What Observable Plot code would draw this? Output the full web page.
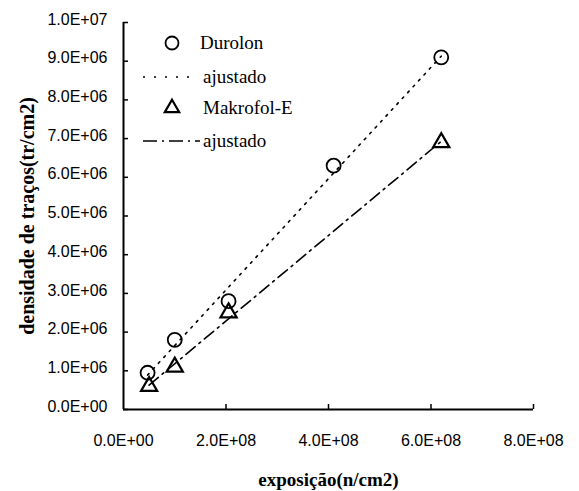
<!DOCTYPE html>
<html><head><meta charset="utf-8">
<script src="https://cdn.jsdelivr.net/npm/d3@7"></script>
<script src="https://cdn.jsdelivr.net/npm/@observablehq/plot@0.6"></script>
<style>body{margin:0;background:#fff}</style>
</head><body><div id="chart"></div>
<script>
// Durolon measured points
const durolonX = [0.47e8, 1.0e8, 2.05e8, 4.1e8, 6.2e8];
const durolonY = [0.95e6, 1.8e6, 2.8e6, 6.3e6, 9.1e6];
// Durolon fitted line
const durolonFitX = [0.47e8, 6.2e8];
const durolonFitY = [0.89e6, 9.13e6];
// Makrofol-E measured points
const makroX = [0.5e8, 1.0e8, 2.05e8, 6.2e8];
const makroY = [0.6e6, 1.1e6, 2.5e6, 6.9e6];
// Makrofol-E fitted line
const makroFitX = [0.5e8, 6.2e8];
const makroFitY = [0.63e6, 6.93e6];
// ticks
const yTicks = [0, 1e6, 2e6, 3e6, 4e6, 5e6, 6e6, 7e6, 8e6, 9e6, 1e7];
const yTickLabels = ["0.0E+00","1.0E+06","2.0E+06","3.0E+06","4.0E+06","5.0E+06","6.0E+06","7.0E+06","8.0E+06","9.0E+06","1.0E+07"];
const xTicks = [0, 2e8, 4e8, 6e8, 8e8];
const xTickLabels = ["0.0E+00","2.0E+08","4.0E+08","6.0E+08","8.0E+08"];
const legendLabels = ["Durolon", "ajustado", "Makrofol-E", "ajustado"];

const pts = (xs, ys) => xs.map((x, i) => ({x, y: ys[i]}));
const yFmt = d => yTickLabels[yTicks.indexOf(d)];
const xFmt = d => xTickLabels[xTicks.indexOf(d)];

const chart = Plot.plot({
  width: 579, height: 491,
  marginLeft: 123, marginRight: 46, marginTop: 22, marginBottom: 82,
  x: {domain: [0, 8e8]},
  y: {domain: [0, 1e7]},
  style: {fontFamily: "Liberation Sans", color: "#000", background: "#fff"},
  marks: [
    Plot.ruleX([0], {stroke: "#000", strokeWidth: 2}),
    Plot.ruleY([0], {stroke: "#000", strokeWidth: 2}),
    Plot.axisY({ticks: yTicks, tickSize: 5, dx: 5, text: null, label: null, strokeWidth: 1.5}),
    Plot.axisY({ticks: yTicks, tickSize: 0, tickPadding: 16, tickFormat: yFmt, fontSize: 16, dy: -3,
      label: "densidade de traços(tr/cm2)", labelAnchor: "center", labelArrow: "none", labelOffset: 104}),
    Plot.axisX({ticks: xTicks.slice(1), tickSize: 5, dy: -5, text: null, label: null, strokeWidth: 1.5}),
    Plot.axisX({ticks: xTicks, tickSize: 0, tickPadding: 25, tickFormat: xFmt, fontSize: 16,
      label: "exposição(n/cm2)", labelAnchor: "center", labelArrow: "none", labelOffset: 76}),
    Plot.line(pts(durolonFitX, durolonFitY), {x: "x", y: "y", stroke: "#000", strokeWidth: 1.6, strokeDasharray: "2,6"}),
    Plot.line(pts(makroFitX, makroFitY), {x: "x", y: "y", stroke: "#000", strokeWidth: 1.6, strokeDasharray: "12,5,2,5"}),
    Plot.dot(pts(durolonX, durolonY), {x: "x", y: "y", r: 7, stroke: "#000", strokeWidth: 1.8, fill: "none"}),
    Plot.dot(pts(makroX, makroY), {x: "x", y: "y", r: 6, symbol: "triangle", stroke: "#000", strokeWidth: 2.2, fill: "none"})
  ]
});

// style axis labels as bold serif
d3.select(chart).selectAll("g[aria-label='y-axis label'] text")
  .attr("font-family", "Liberation Serif").attr("font-weight", "bold").attr("font-size", 20);
d3.select(chart).selectAll("g[aria-label='x-axis label'] text")
  .attr("font-family", "Liberation Serif").attr("font-weight", "bold").attr("font-size", 19);

// legend inside the plot frame
const svg = d3.select(chart);
const lg = svg.append("g").attr("font-family", "Liberation Serif").attr("font-size", 19).attr("fill", "#000").attr("text-anchor", "start");
const rows = [
  {y: 43, kind: "circle"}, {y: 77, kind: "dot"}, {y: 108, kind: "tri"}, {y: 141, kind: "dashdot"}
];
rows.forEach((r, i) => {
  if (r.kind === "circle") lg.append("circle").attr("cx", 172).attr("cy", r.y).attr("r", 6.5).attr("fill", "none").attr("stroke", "#000").attr("stroke-width", 1.8);
  if (r.kind === "tri") lg.append("path").attr("d", d3.symbol(d3.symbolTriangle, 90)()).attr("transform", `translate(172,${r.y})`).attr("fill", "none").attr("stroke", "#000").attr("stroke-width", 2.2);
  if (r.kind === "dot") lg.append("line").attr("x1", 143).attr("x2", 192).attr("y1", r.y).attr("y2", r.y).attr("stroke", "#000").attr("stroke-width", 1.6).attr("stroke-dasharray", "2,9");
  if (r.kind === "dashdot") lg.append("line").attr("x1", 143).attr("x2", 200).attr("y1", r.y).attr("y2", r.y).attr("stroke", "#000").attr("stroke-width", 1.6).attr("stroke-dasharray", "14,5,2,5");
  lg.append("text").attr("x", i === 0 ? 200 : 203).attr("y", r.y + 6).text(legendLabels[i]);
});

document.getElementById("chart").appendChild(chart);
</script>
</body></html>
